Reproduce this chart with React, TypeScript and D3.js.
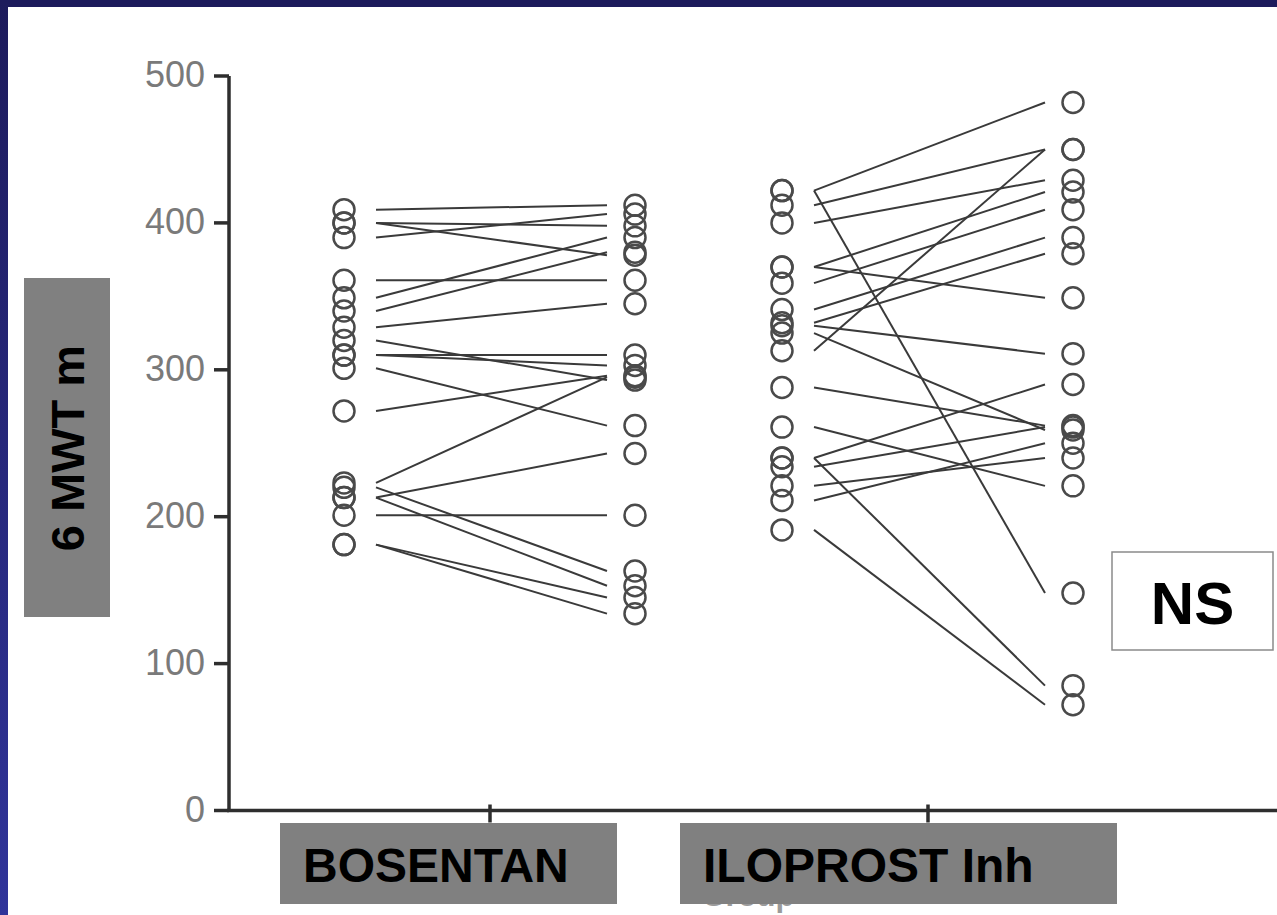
import React from "react";
import * as d3 from "d3";

// Six-minute walk distance (m), before and after treatment, one entry per patient
const groups = ["BOSENTAN", "ILOPROST Inh"];
const yTicks = [0, 100, 200, 300, 400, 500];

const bosentanBefore = [409, 400, 400, 390, 361, 349, 340, 329, 320, 310, 310, 301, 272, 223, 220, 213, 213, 201, 181, 181];
const bosentanAfter = [412, 398, 378, 406, 361, 390, 380, 345, 293, 310, 303, 262, 296, 295, 163, 243, 153, 201, 145, 134];

const iloprostBefore = [422, 422, 412, 400, 370, 359, 341, 332, 313, 370, 330, 325, 288, 261, 240, 234, 221, 211, 240, 191];
const iloprostAfter = [482, 148, 450, 429, 421, 409, 390, 379, 450, 349, 311, 259, 262, 221, 290, 261, 240, 250, 85, 72];

const yAxisTitle = "6 MWT m";
const xAxisTitle = "Group";
const significance = "NS";

const W = 1277;
const H = 915;

export default function App() {
  const y = d3.scaleLinear().domain([0, 500]).range([810.5, 76]);
  const x = d3.scalePoint<string>().domain(groups).range([490, 928]);

  const series = [
    { group: groups[0], before: bosentanBefore, after: bosentanAfter },
    { group: groups[1], before: iloprostBefore, after: iloprostAfter },
  ];

  const preOffset = -146;
  const postOffset = 145;
  const lineGapPre = 32;
  const lineGapPost = 28;
  const axisLeft = 229;
  const axisBottom = y(0);

  const labelBoxes: Record<string, [number, number]> = {
    BOSENTAN: [-210, 127],
    "ILOPROST Inh": [-248, 189],
  };

  const circleStroke = "#4a4a4a";
  const lineStroke = "#3a3a3a";

  return (
    <svg
      width={W}
      height={H}
      viewBox={`0 0 ${W} ${H}`}
      style={{ position: "absolute", left: 0, top: 0, display: "block" }}
      fontFamily="Arial, 'Liberation Sans', Helvetica, sans-serif"
    >
      <defs>
        <linearGradient id="sideBand" x1="0" y1="0" x2="0" y2="1">
          <stop offset="0" stopColor="#1d1b5c" />
          <stop offset="1" stopColor="#30349a" />
        </linearGradient>
      </defs>
      <rect x={0} y={0} width={W} height={H} fill="#ffffff" />
      <rect x={0} y={0} width={W} height={7} fill="#1d1b5c" />
      <rect x={0} y={0} width={8} height={H} fill="url(#sideBand)" />

      {/* x axis title, mostly covered by the group boxes */}
      <text x={748} y={906} textAnchor="middle" fontSize={31} fontWeight="bold" fill="#9a9a9a">
        {xAxisTitle}
      </text>

      {/* paired lines */}
      {series.map((s) => {
        const cx = x(s.group) as number;
        return (
          <g key={s.group + "-lines"}>
            {s.before.map((b, i) => (
              <line
                key={i}
                x1={cx + preOffset + lineGapPre}
                y1={y(b)}
                x2={cx + postOffset - lineGapPost}
                y2={y(s.after[i])}
                stroke={lineStroke}
                strokeWidth={2}
              />
            ))}
          </g>
        );
      })}

      {/* individual points */}
      {series.map((s) => {
        const cx = x(s.group) as number;
        return (
          <g key={s.group + "-points"} fill="none" stroke={circleStroke} strokeWidth={2.5}>
            {s.before.map((b, i) => (
              <circle key={"b" + i} cx={cx + preOffset} cy={y(b)} r={10.5} />
            ))}
            {s.after.map((a, i) => (
              <circle key={"a" + i} cx={cx + postOffset} cy={y(a)} r={10.5} />
            ))}
          </g>
        );
      })}

      {/* y axis */}
      <line x1={axisLeft} y1={y(500)} x2={axisLeft} y2={axisBottom} stroke="#2e2e2e" strokeWidth={3.5} />
      {yTicks.map((t) => (
        <g key={t}>
          <line x1={axisLeft - 15} y1={y(t)} x2={axisLeft} y2={y(t)} stroke="#2e2e2e" strokeWidth={3.5} />
          <text x={205} y={y(t) + 11} textAnchor="end" fontSize={36} fill="#7a7a7a">
            {t}
          </text>
        </g>
      ))}

      {/* x axis */}
      <line x1={axisLeft - 2} y1={axisBottom} x2={W} y2={axisBottom} stroke="#2e2e2e" strokeWidth={3.5} />
      {groups.map((g) => (
        <line key={g} x1={x(g)} y1={axisBottom - 6} x2={x(g)} y2={axisBottom + 12} stroke="#2e2e2e" strokeWidth={3.5} />
      ))}

      {/* group labels */}
      {groups.map((g) => {
        const cx = x(g) as number;
        const [l, r] = labelBoxes[g];
        return (
          <g key={g + "-label"}>
            <rect x={cx + l} y={823} width={r - l} height={81} fill="#808080" />
            <text x={cx + l + 23} y={882} fontSize={48} fontWeight="bold" fill="#000">
              {g}
            </text>
          </g>
        );
      })}

      {/* y axis title */}
      <rect x={24} y={278} width={86} height={339} fill="#808080" />
      <text transform="translate(84,448) rotate(-90)" textAnchor="middle" fontSize={47} fontWeight="bold" fill="#000">
        {yAxisTitle}
      </text>

      {/* significance box */}
      <rect x={1112} y={552} width={161} height={98} fill="#fff" stroke="#8a8a8a" strokeWidth={1.5} />
      <text x={1192.5} y={624} textAnchor="middle" fontSize={60} fontWeight="bold" fill="#000">
        {significance}
      </text>
    </svg>
  );
}
